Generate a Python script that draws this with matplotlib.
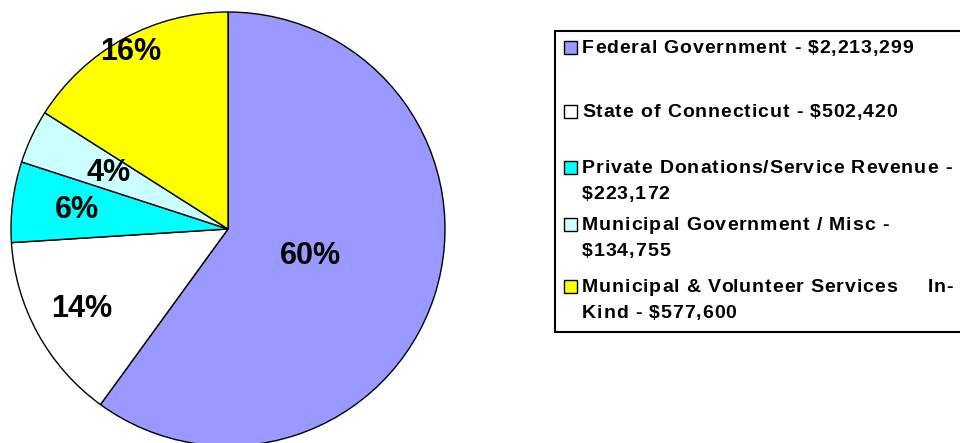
import numpy as np
import matplotlib
matplotlib.use("Agg")
import matplotlib.pyplot as plt
from matplotlib.patches import Rectangle

# ---- data ----
categories = ["Federal Government", "State of Connecticut",
              "Private Donations/Service Revenue", "Municipal Government / Misc",
              "Municipal & Volunteer Services In-Kind"]
amounts = ["$2,213,299", "$502,420", "$223,172", "$134,755", "$577,600"]
shares = [60, 14, 6, 4, 16]
pct_labels = ["60%", "14%", "6%", "4%", "16%"]

# legend text as laid out in the reference (wrapped lines; "||" = justified gap)
legend_texts = [
    "Federal Government - $2,213,299",
    "State of Connecticut - $502,420",
    "Private Donations/Service Revenue -\n$223,172",
    "Municipal Government / Misc -\n$134,755",
    "Municipal & Volunteer Services||In-\nKind - $577,600",
]

colors = ["#9999FF", "#FFFFFF", "#00FFFF", "#CCFFFF", "#FFFF00"]
label_dist = [0.40, 0.77, 0.70, 0.61, 0.93]

W, H = 960, 443
fig = plt.figure(figsize=(W / 100, H / 100), dpi=100)
ax = fig.add_axes([0, 0, 1, 1])

cx, cy, R = 228, H - 229, 217
wedges, _ = ax.pie(shares, colors=colors, startangle=90, counterclock=False,
                   center=(cx, cy), radius=R, frame=True,
                   wedgeprops=dict(edgecolor="black", linewidth=1.0))
ax.set_xlim(0, W)
ax.set_ylim(0, H)
ax.set_aspect("equal")
ax.axis("off")

font = "Liberation Sans"
for w, lab, d in zip(wedges, pct_labels, label_dist):
    th = np.deg2rad((w.theta1 + w.theta2) / 2)
    x = cx + d * R * np.cos(th)
    y = cy + d * R * np.sin(th)
    ax.text(x, y, lab, ha="center", va="center", fontsize=22,
            fontweight="bold", family=font, color="black")

# ---- legend (manual box) ----
renderer = fig.canvas.get_renderer()
FS = 14
TRACK = 0.9  # extra px between letters (reference uses loose tracking)


def text_width(s):
    t = ax.text(0, 0, s, fontsize=FS, fontweight="bold", family=font)
    wpx = t.get_window_extent(renderer=renderer).width
    t.remove()
    return wpx


def tracked_text(x0, y, s):
    for i, ch in enumerate(s):
        if ch == " ":
            continue
        xi = x0 + text_width(s[:i] + "|") - text_width("|") + i * TRACK if i else x0
        ax.text(xi, y, ch, ha="left", va="center", fontsize=FS,
                fontweight="bold", family=font, zorder=5)
    return x0 + text_width(s) + len(s) * TRACK


def tracked_width(s):
    return text_width(s) + (len(s) - 1) * TRACK


box_left, box_top, box_bottom = 555, H - 31, H - 332
ax.add_patch(Rectangle((box_left, box_bottom), 500, box_top - box_bottom,
                       facecolor="white", edgecolor="black", linewidth=1.5,
                       clip_on=True, zorder=3))
first_line_y = [48, 112, 168, 225, 287]
line_gap = 26
sq = 13
text_x = 582
justify_right = 953
for c, txt, y0 in zip(colors, legend_texts, first_line_y):
    yy = H - y0
    ax.add_patch(Rectangle((564, yy - sq / 2 + 0.5), sq, sq, facecolor=c,
                           edgecolor="black", linewidth=1.0, zorder=4))
    for k, line in enumerate(txt.split("\n")):
        ly = yy - k * line_gap
        if "||" in line:
            left, right = line.split("||")
            tracked_text(text_x, ly, left)
            tracked_text(justify_right - tracked_width(right), ly, right)
        else:
            tracked_text(text_x, ly, line)

fig.savefig("out.png", dpi=100, facecolor="white")
